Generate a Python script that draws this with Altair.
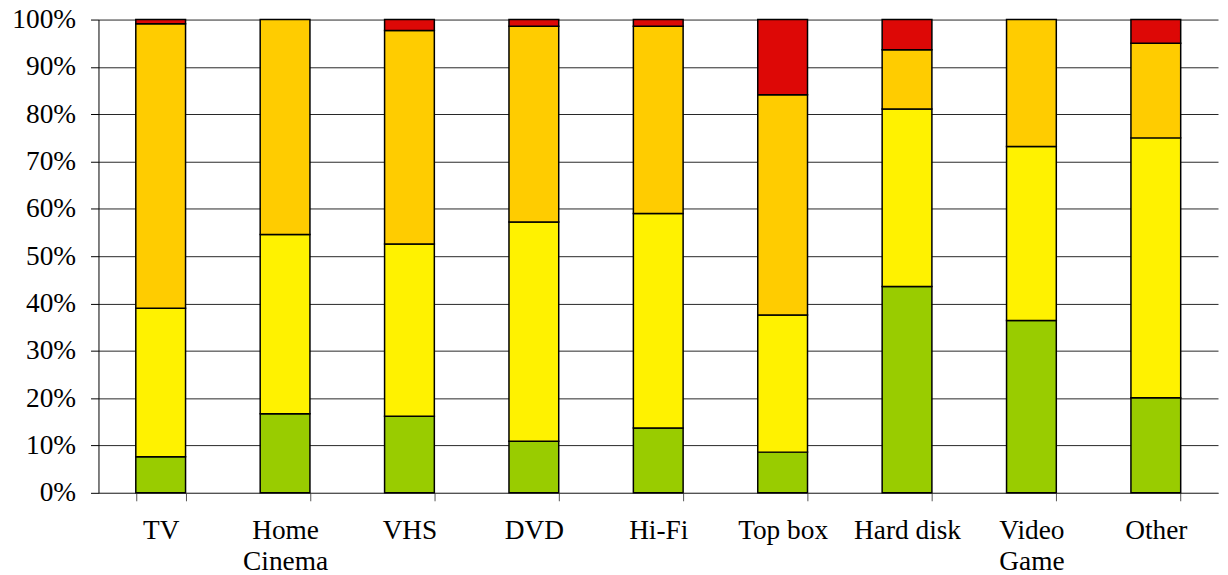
import altair as alt
import pandas as pd

categories = ["TV", "Home\nCinema", "VHS", "DVD", "Hi-Fi", "Top box", "Hard disk", "Video\nGame", "Other"]
green = [7.6, 16.7, 16.2, 10.9, 13.7, 8.6, 43.6, 36.4, 20.1]
yellow = [31.4, 37.9, 36.4, 46.3, 45.3, 29.0, 37.5, 36.8, 54.9]
orange = [60.1, 45.4, 45.1, 41.4, 39.6, 46.5, 12.5, 26.8, 20.0]
red = [0.9, 0.0, 2.3, 1.4, 1.4, 15.9, 6.4, 0.0, 5.0]

series_names = ["green", "yellow", "orange", "red"]
series_colors = ["#99CC00", "#FFF200", "#FFCC00", "#DD0806"]
series_values = [green, yellow, orange, red]

rows = []
for si, (name, vals) in enumerate(zip(series_names, series_values)):
    for c, v in zip(categories, vals):
        if v > 0:
            rows.append({"cat": c, "series": name, "idx": si, "value": v})
df = pd.DataFrame(rows)

FONT = "Liberation Serif"

chart = alt.Chart(df).mark_bar(stroke="#000000", strokeWidth=1.5).encode(
    x=alt.X("cat:N", sort=categories,
            scale=alt.Scale(paddingInner=0.6, paddingOuter=0.3),
            axis=alt.Axis(title=None, labelAngle=0, labelFont=FONT, labelFontSize=27.5,
                          labelColor="#000000", labelExpr="split(datum.label, '\\n')",
                          labelLineHeight=31, labelPadding=16, labelBaseline="top",
                          tickBand="extent", tickSize=8, tickColor="#555555",
                          domainColor="#555555", grid=False)),
    y=alt.Y("value:Q", stack="normalize",
            scale=alt.Scale(domain=[0, 1]),
            axis=alt.Axis(title=None, format="%", values=[i / 10 for i in range(11)],
                          labelFont=FONT, labelFontSize=27.5, labelColor="#000000",
                          labelPadding=15, tickSize=8, tickColor="#000000",
                          domainColor="#000000", gridColor="#000000", gridOpacity=0.85,
                          labelFlush=False)),
    color=alt.Color("series:N", scale=alt.Scale(domain=series_names, range=series_colors), legend=None),
    order=alt.Order("idx:Q", sort="ascending"),
).properties(
    width=1126, height=476,
    autosize=alt.AutoSizeParams(type="none"),
    padding={"left": 91, "top": 10, "right": 2, "bottom": 78},
).configure_view(stroke=None)

chart.save("out.html", embed_options={"renderer": "svg", "actions": False})
